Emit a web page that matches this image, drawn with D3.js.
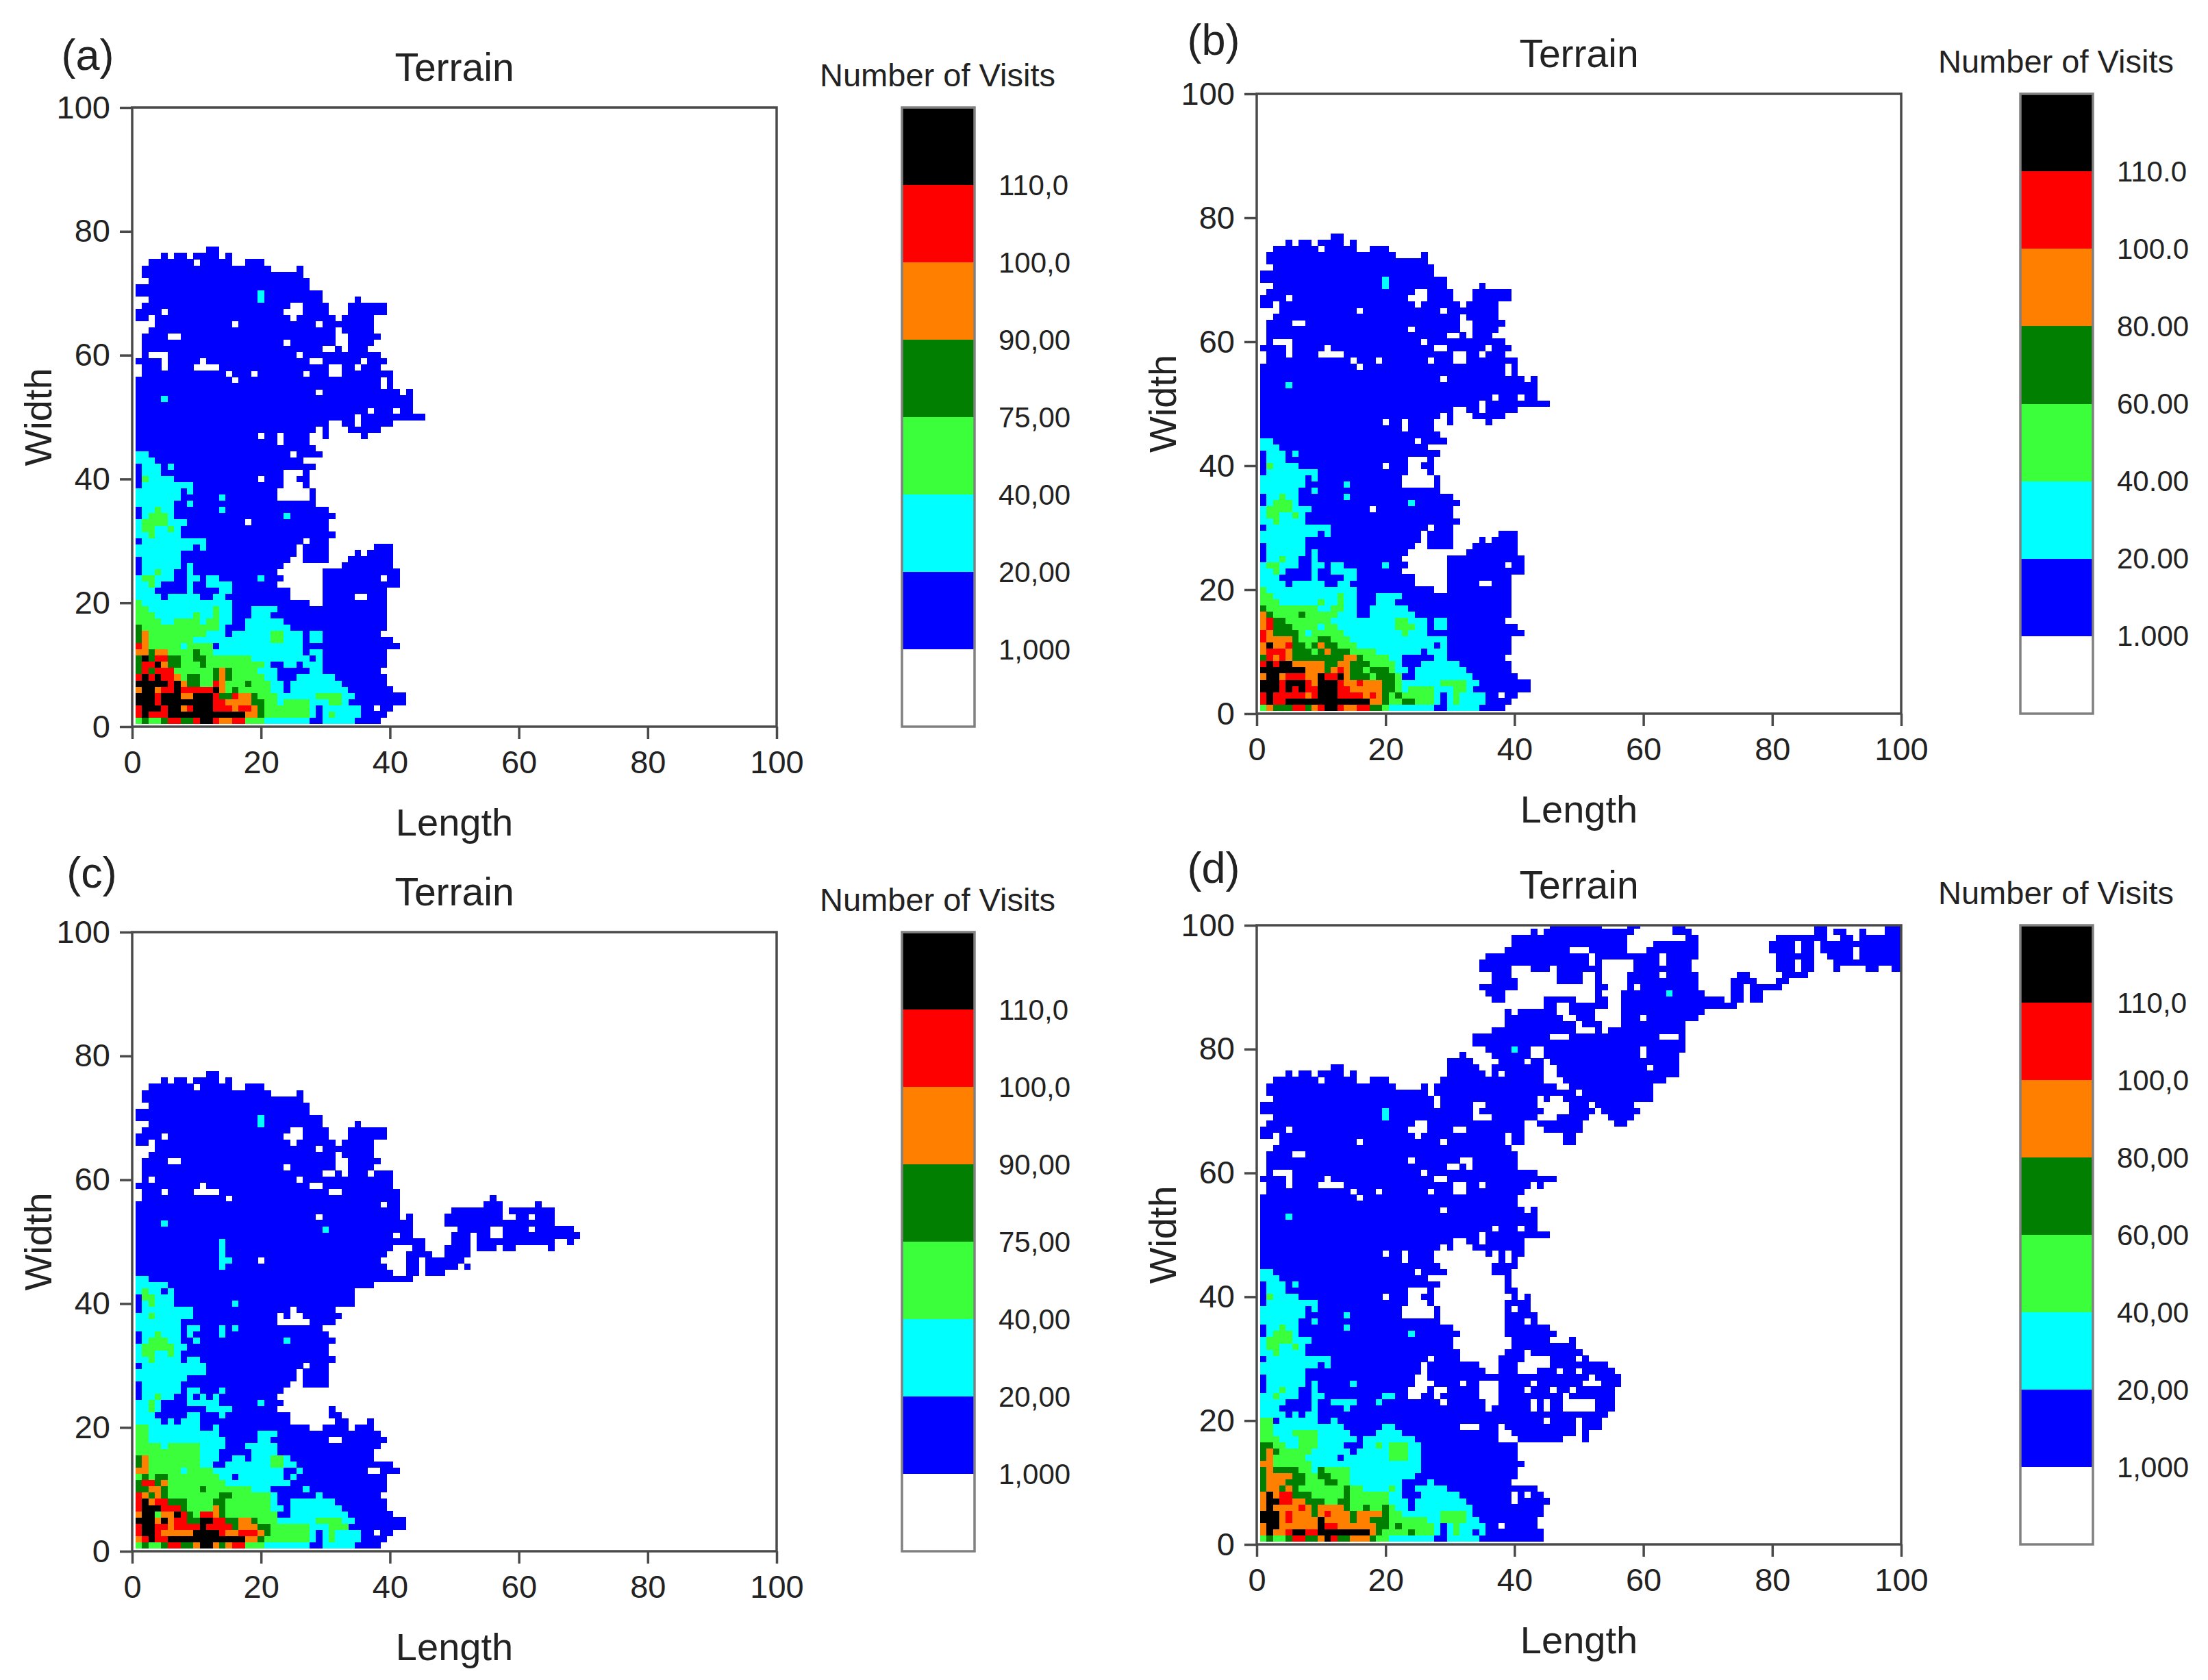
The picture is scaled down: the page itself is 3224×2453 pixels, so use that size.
<!DOCTYPE html>
<html>
<head>
<meta charset="utf-8">
<title>Terrain</title>
<script src="https://cdn.jsdelivr.net/npm/d3@7"></script>
<style>
  html, body { margin: 0; padding: 0; background: #fff; }
  text { font-family: "Liberation Sans", Arial, sans-serif; fill: #222; }
</style>
</head>
<body>
<svg id="chart"></svg>
<script>
// Grid rows, first entry is row 1 (bottom). Token = level letter + column or column range,
// later tokens overwrite earlier ones, "." clears a cell back to white.
const rowsA = [
  "b35-38 g1 d2 g3-4 d5 r6-7 d8-9 r10 k11-12 r13 o14-15 r16-17 g18-20 c21-27 b28-29 c30-34",
  "b36-39 r1 k2 r3-5 k6-17 o18-19 d20 g21-27 c28 b29 c30-35 g31",
  "b36-40 .38 r1 k2-4 r5 k6-7 o8 r9 k10-12 r13-15 o16 r17-18 o19 d20 g21-27 c28 b29 c30-35",
  "b34-42 k1-3 r4 k5-12 r13-14 o15-18 d19-20 g21-22 c23 g24-27 c28-30 g31-32 c33",
  "b35-42 k1-7 r4 o8-9 k10-12 r13 d14-15 r16 o17-18 d19 g20-22 c23-34 g29-32",
  "b1-40 o1 k2-3 o4 r5-6 k7 r8-12 k13 o14 g15 d16 g17-21 c22-23 b24 c25-33",
  "b1-39 k1-5 r6 k7 o8 d9-10 g11-12 r13 o14 g15-17 d18 g19-21 c22-23 b24 c25-32",
  "b1-39 r1 k2 r3 k4 r5-6 o7 g8 d9-10 g11-12 d13 o14 d15 g16-20 c21-22 b23-25 c26-31",
  "b1-38 d1 r2 d3 r4-6 g7-12 d13 o14 d15 g16-19 c20-22 b23-27 c28-29",
  "b1-39 d1 r2-3 k4 o5 d6-7 g8-10 d11 g12-20 c21 b22-23 c24-25 b26 c27-29",
  "b1-39 d1 k2 d3 r4-5 d6-7 g8-9 d10-11 g12-18 c19-27 b28 c29",
  "b1-39 o1-2 d3 o4-5 g6-9 d10 g11-12 c13-26 c28-29",
  "b1-41 r1 o2 g3-7 c8 g9-12 b13 c14-26",
  "b1-40 d1 o2 g3-9 c10-26 g22-23 c28-29",
  "b1-38 d1 o2 g3-11 c12-14 b15 c16-26 g22-23 c28-29",
  "b1-39 d1 g2-11 c12-14 g12-13 b15 c18-24",
  "b1-39 g1-4 c5-6 g7-10 c11-15 g12-13 c18-23",
  "b1-39 g1-3 c4-15 g10 g13 c19-21",
  "b1-39 g1-2 c3-15 g13 c19-22",
  "b1-27 b30-39 g1 c2-15",
  "b1-24 b30-39 c1-4 c6-10 c13-14 .35-36",
  "b1-24 b30-39 c1-3 c9 c14-15",
  "b1-22 b30-41 c1-4 g3 c9 c12-15",
  "b1-23 b30-41 c1-6 g2-3 c9-10 c12-13 c20 .39",
  "b1-22 b30-41 c2-6 g4 c9",
  "b1-23 b33-40 c2-7 c9",
  "b1-24 b27-30 b34-40 c2-7",
  "b1-25 b27-30 b35 b37-40 c1-7",
  "b1-25 b27-30 b38-40 c1-9 c11",
  "b1-30 c2-11 .27",
  "b1-31 c1-7 g3",
  "b1-30 c1-7 g2-3 g6",
  "b1-30 c1-8 g2-5 .18",
  "b1-31 c2-6 g3-5 c24",
  "b1-30 c2-6 g4 c14",
  "b1-28 c1-6 c9",
  "b1-22 b28 c1-7 c14",
  "b1-22 b28 c1-7 c9",
  "b1-23 b27 c2-9",
  "b1-23 b26-27 c2-6 g2 .20",
  "b1-23 b27 c2-4",
  "b1-28 c2-4 c6",
  "b1-26 c1-3",
  "b1-29 c1-2 .25",
  "b1-28",
  "b1-27 .23",
  "b1-27 .20 .23 b30 b36",
  "b1-28 b30 b34-38",
  "b1-30 b33-40 .35",
  "b1-45 .35",
  "b1-43 .37 .41",
  "b1-43",
  "b1-43 c5",
  "b1-41 b43 .29",
  "b1-40 .39",
  "b1-40 .16 .39",
  "b2-40 .15 .19 .27 .31-32",
  "b2-38 .5 .10-13 .31-32 .35",
  "b1-39 .5 .11 .28-29 .36",
  "b2-38 .3-5 .26",
  "b2-36 .30-31 .33",
  "b2-37 .24 .32-33",
  "b2-38 .6-7 .32-33",
  "b3-37 .32",
  "b4-37 .16 .29",
  "b1-31 .3 .25 b33-37",
  "b1-30 .5 .24-26 b34-39",
  "b2-30 .25-26 b34-39",
  "b3-29 c20 b35",
  "b1-29 c20",
  "b1-27",
  "b3-27",
  "b2-26",
  "b2-21 b26",
  "b3-15 .10 b18-20",
  "b5 b7-8 b10-13 b15",
  "b12-13"
];

// panel (b) only differs from (a) in rows 1-17
const lowB = [
  "b35-38 g1 o2 d3-5 r6-7 d8 o9 r10 k11-12 r13 o14-15 r16-17 d18-19 g20 c21-27 b28-29 c30-34",
  "b36-39 r1 k2 r3-4 k5-17 o18-19 d20 g21-22 d23-24 g25-27 c28 b29 c30-35 g31",
  "b36-40 .38 r1 k2 r3-7 o8 r9 k10-12 r13-16 o17 r18 o19 d20 g21 d22 g23-27 c28 b29 c30-35 g31",
  "b34-42 k1-3 r4 k5 r6 k7 r8-9 k10-12 r13-14 o15-19 d20-21 g22 c23 g24-27 c28-30 g31-32 c33",
  "b35-42 k1-3 r4 k5-7 r8 o9 k10-12 r13 o14-15 r16 o17-19 d20-21 g22 c23-34 g29-32",
  "b1-40 o1 k2-3 o4 r5-7 o8-9 k10 r11-12 k13 o14 d15-17 g18 d19-21 g22 b23-24 c25-33",
  "b1-39 k1-7 o8-10 d11 o12 r13 o14 d15-16 g17 d18-20 g21 c22-23 b24 c25-32",
  "b1-39 r1 k2 r3 k4-5 o6-10 d11-12 o13-14 d15-17 g18-21 c22 b23-25 c26-31",
  "b1-38 d1 r2 o3 r4 o5 d6-13 o14-15 d16 g17-20 c21-22 b23-27 c28-29",
  "b1-39 o1 r2-4 o5 d6-8 g9 d10 o11 d12-14 g15-18 c19-25 b26 c27-29",
  "b1-39 o1 k2 o3-4 r5 d6-7 g8 d9 o10 d11-12 g13-15 c16-27 b28 c29",
  "b1-39 r1 o2-5 d6 g7-9 d10-11 g12-14 c15-29",
  "b1-41 r1 o2 d3-6 g7 c8 g9-13 c14-26 g23",
  "b1-40 o1 r2 d3-5 g6-12 c10 c13-26 g22-24 c28-29",
  "b1-38 o1 r2 d3-4 g5-11 c12-26 g22-23 c28-29",
  "b1-39 o1 d2 g3-11 d7 g12 c13-15 c18-24",
  "b1-39 g1-9 d1 c10-15 g12-13 c18-23"
];

// panel (c) rows 1-65, the top of it is the same as (a)
const lowC = [
  "b35-38 g1 d2 g3-4 d5 r6-7 d8-9 o10 k11-12 o13 d14 o15 r16-17 g18-20 c21-27 b28-29 c30-34",
  "b36-39 o1 r2 k3 r4-5 k6-17 o18-19 d20 g21-27 c28 b29 c30-35 g31",
  "b36-40 .38 r1 k2-3 r4 o5-9 k10-13 r14 o15-16 r17-19 o20 d21 g22-27 c28 b29 c30-35 g31",
  "b34-42 r1 k2-3 r4-5 o6 r7-10 k11 r12-15 d16 o17-19 d20-21 g22-27 c28-30 g31-33",
  "b35-42 k1-3 o4 k5 o6 r7-8 d9-10 k11-12 r13-14 d15-16 o17-18 d19 g20-22 c23-34 g29-32",
  "b1-40 o1 k2-3 g4 o5-6 k7 r8 d9 g10 r11-12 o13 d14 g15-22 b23-24 c25-33",
  "b1-39 r1 k2-4 r5-7 d8 g9-12 o13 d14 g15-21 c22-23 b24 c25-32",
  "b1-39 r1 k2 o3 r4-5 d6-8 g9-12 d13-14 g15-21 c22 b23-24 c25-31",
  "b1-38 r1 o2 d3 o4 d5 g6-13 d14-15 g16-21 c22 c29",
  "b1-39 d1-2 o3-4 d5 g6-10 d11 g12-18 c19-21 c27",
  "b1-39 d1 r2-3 d4 o5 g6-14 c15-24",
  "b1-39 g1 d2 g3 d4-5 g6-13 c14-23 b16 c25",
  "b1-41 o1-2 g3-7 c8 g9-12 c13-23 c26 .37-38",
  "b1-40 d1 o2 g3-10 c11-12 b13-14 c15-25 g22-23",
  "b1-37 d1 o2 g3-10 c11-13 c16-17 c19-24 g22-23",
  "b1-37 g1-10 c11-13 c19-22",
  "b1-38 g1-4 c5 g6-10 c11-14 c18-22",
  "b1-39 g1-2 c3-14 c20-21 .31-32",
  "b1-38 g1-2 c3-13 c20-22",
  "b1-27 b30-33 b35-37 g1-2 c3-10 c13",
  "b1-24 b32-33 b37 c1-4 c6 c8-10",
  "b1-24 b31-32 c1-3 c9-10 c14",
  "b1-22 b31 c1-4 g3 c12-15",
  "b1-23 c1-4 g3 c9-13 c20",
  "b1-22 c2-6 g4 c9 c11 c13",
  "b1-23 c2-7 c9-10 c14",
  "b1-24 b27-30 c2-7",
  "b1-25 b27-30 c1-8",
  "b1-25 b27-30 c1-11",
  "b1-30 .27 c2-11",
  "b1-31 c1-7 c9-10 g3",
  "b1-30 c1-7 g2-3 g6",
  "b1-30 c1-8 g2-5 g6",
  "b1-31 c2-7 g3-5 c10 c24",
  "b1-30 c2-7 g4 c9 c14",
  "b1-29 c1-7 c9-10 c14 c16",
  "b1-22 b28-31 c1-7",
  "b1-32 c1-9 g3 .23 .25-26",
  "b1-31 .25 c2-9",
  "b1-34 c2-6 g3 c16",
  "b1-34 c2-6 g2-3",
  "b1-34 c1-6 g2 b5",
  "b1-37 c1-5",
  "b1-43 c1-2",
  "b1-40 b43-44 b46-48",
  "b1-39 b43-44 b46-50 b52 c14",
  "b1-38 b43-44 b46-51 c14-15 .20",
  "b1-39 b43-46 b49-52 c14",
  "b1-40 b44-45 b49-56 .53 b58-59 b65 c14",
  "b1-45 b50-65 .53 b68 c14",
  "b1-43 .41 b50-69 .53 .56-57",
  "b1-43 c30 b51-68 .56-57 .62",
  "b1-43 c5 b49-65",
  "b1-41 b43 .29 b49-57 b60-65 .62",
  "b1-41 b50-57 b59-65",
  "b1-41 .39 b55-57 b63",
  "b2-41 .15 b56",
  "b2-41 .5 .10-13 .31-32",
  "b1-40 .11 .28-29",
  "b2-40 .3 .26",
  "b2-40 .30-31 .33 .37",
  "b2-37 .24 .32-33",
  "b2-38 .6-7 .32-33",
  "b3-37 .32",
  "b4-37 .29"
];

const rowsD = [
  "b35-44 g1 d2 g3-4 d5 r6-7 d8-9 o10 k11 r12 d13-14 o15-17 d18 g19-20 c21-27 b28-29 c30-34",
  "b1-44 o1 k2 o3-4 r5 k6-7 r8-9 k10-17 o18 d19 g20-23 d24 g25-27 c28 b29 c30-33 g31 b34 c35",
  "b1-43 o1 k2-3 o4-9 k10 r11-12 o13-18 d19-20 g21 d22 g23-27 c28-35 b29 g31 .38",
  "b1-43 k1-3 o4 r5 o6-9 k10 o11-14 d15 o16-17 d18-20 g21-26 c27-34 g29-32",
  "b1-44 k1-3 o4 r5 o6-8 d9 o10 r11 o12-14 d15 o16-19 d20 g21-22 c23-33 g29-32",
  "b1-44 o1 k2 o3-6 r7 o8 d9 o10-13 d14 g15-16 d17 g18-19 d20 g21 c22-23 b24 c25-33",
  "b1-45 .40 o1 k2-3 r4-5 o6-7 d8-10 g11-12 d13-14 g15-20 c21-23 b24 c25-32",
  "b1-44 .40 .42 o1 k2 o3 r4-5 d6-8 g9-13 d14 g15-20 c21-22 b23-25 c26-31",
  "b1-43 d1 o2-3 d4 o5 d6 g7-13 d14 g15-16 c17-22 g21 b23-24 c25-29",
  "b1-39 d1 o2-4 d5-7 g8-10 d11-12 g13-14 c15-22 b23-24 c27",
  "b1-40 d1 o2-5 d6-7 g8-9 d10-11 g12-14 c15-24",
  "b1-40 d1 o2 d3-6 g7-8 c9 d10 g11-14 c15-25",
  "b1-41 o1-2 g3-8 c9-25",
  "b1-40 d1 o2 g3-7 c8-12 b13 c14-25 g21-23",
  "b1-40 d1 o2 d3 g4-8 c9-14 b15 c16-25 g21-23",
  "b1-40 d1-2 g3-4 c5-6 g7-9 c10-13 c17-25 g19 g21-23",
  "b1-51 g1-3 c4-6 g7-9 c10-15 c17-24 .38-40 .48-50",
  "b1-51 g1-2 c3-14 g6-9 c19-22 .38-39 .50",
  "b1-53 g1-2 c3-13 c20-21 .32-34 .38 .50",
  "b1-53 g1-2 b3 c4-9 c12 .45 .50",
  "b1-54 c1-4 c6 c8-9",
  "b1-55 c1-3 c9 c14 .36 .43 .45 .48-52",
  "b1-55 c1-4 c9 c12-15 c19 .29 .36-37 .43 .45 .48-52",
  "b1-23 b26-27 b29-34 b38-55 c1-6 g3 c9-10 c20-21 .48",
  "b1-23 b27 b30-34 b38-55 c2-6 g4 c9 .42 .46 .49",
  "b1-24 b28-34 .32 b38-56 c2-7 c9 c15 .43 .51-53",
  "b1-24 b27-56 c2-7 .52",
  "b1-25 b27-35 b38-40 b44-55 c1-7 .47 .50",
  "b1-25 b27-34 b38-40 b46-54 c1-9 c11",
  "b1-31 b38-41 b46-51 c2-11 .27 .50",
  "b1-31 b39-41 b43-50 c1-7 g3",
  "b1-30 b40-49 c1-7 g2-3 g6",
  "b1-30 b40-45 b49 c1-8 g2-5",
  "b1-31 b39-46 c2-6 g3-5 c24",
  "b1-30 b39-45 c2-6 g4 c14",
  "b1-28 b39-43 c1-6 c9 .42",
  "b1-22 b28 b39-43 c1-7 c14",
  "b1-22 b28 b39-42 c1-7 c9 .40",
  "b1-23 b27 b39-42 c2-9",
  "b1-23 b26-27 b40 b42 c2-6 g2 .20",
  "b1-23 b27 b39-40 c2-4",
  "b1-28 b39 c2-4 c6",
  "b1-26 b39 c1-3",
  "b1-29 b37-39 c1-2 .25",
  "b1-28 b37-40",
  "b1-27 .23 b38 b40",
  "b1-27 .20 .23 b36 b38 b40-41",
  "b1-28 b30 b34-41",
  "b1-30 b33-41 .35",
  "b1-45 .35",
  "b1-43 .37 .41",
  "b1-43",
  "b1-43 c5",
  "b1-41 b43 .29",
  "b1-40",
  "b1-40 .16",
  "b2-41 .15 .19 .27 .31-32",
  "b2-42 b44 .5 .10-13 .31-32 .35",
  "b1-46 .5 .11 .28-29",
  "b2-43 .3-5 .26",
  "b2-40 .30-31 .33",
  "b2-40 .24 .32-33",
  "b2-40 .6-7",
  "b3-39",
  "b4-38 .16 .29 b40-41 b48-49",
  "b1-38 .3 .25 b40-41 b48-49",
  "b1-41 .5 .24-26 .31-32 b45-50",
  "b2-41 .25-26 b44-50 b56-57",
  "b3-33 c20 b37-43 b47-51 b55-58",
  "b1-33 c20 b35-44 b49-52 b54-59",
  "b1-27 b29-33 b36-43 b49-51 b53-58",
  "b3-27 b29-43 b45 b48-61",
  "b2-26 b28-61 .50",
  "b2-21 b26 b28-46 b49-61",
  "b3-15 .10 b18-20 b29-44 b48-63",
  "b5 b7-8 b10-13 b15 b30-35 b37 b39-44 b47-65",
  "b12-13 b30-34 b37-44 b47-65 .61",
  "b30-33 b38-41 b43-44 b46-65",
  "b32 b37-42 b45-65 .60",
  "b36-66 .43-44 .60 c40",
  "b34-66",
  "b34-66 .46-48 .63-65",
  "b37-49 b53 b55-66",
  "b39-49 b51-53 b57-66",
  "b39-47 b50-52 b57-68 .60",
  "b39 b41-46 b49-52 b57-69",
  "b45-46 b49-54 b57-74",
  "b37-38 b45-49 b53-54 b57-72 b74-75 b77-78",
  "b36-38 b53 b57-69 c64 b74-75 b77-78",
  "b35-40 b53-54 b58-68 .59 b74-75 b77-81",
  "b37-40 b47-50 b53 b58-68 b74-77 b81-82",
  "b37-39 b47-50 b53 b58-68 .63 b75-76 b82-85",
  "b35-39 b43-45 b47-53 b59-67 b81-83 b85-86 b90 b95-96 b99-100",
  "b35-53 .52 b59-67 .63 b81-83 b85-86 b90-100",
  "b36-68 .52 .63 b81-86 b89-100 .93",
  "b39-57 .49-51 b61-68 b80-83 b85-86 b88-100 .93",
  "b40-57 b62-68 b80-83 b85-86 b88-100",
  "b40-57 b67-68 b81-88 b91-92 b94-100",
  "b43 b45-58 b65-67 b87-88 b90-91 b94 b98-100",
  "b46-53 b58-59 b65-66 b87-88 b98-100"
];

const rowsB = lowB.concat(rowsA.slice(17));
const rowsC = lowC.concat(rowsA.slice(65));

const levelCodes = [".", "b", "c", "g", "d", "o", "r", "k"];
const levelColors = ["#ffffff", "#0000ff", "#00ffff", "#3cff3c", "#007f00", "#ff8000", "#ff0000", "#000000"];

const axisTicks = [0, 20, 40, 60, 80, 100];
const labelsComma = ["1,000", "20,00", "40,00", "75,00", "90,00", "100,0", "110,0"];
const labelsDot = ["1.000", "20.00", "40.00", "60.00", "80.00", "100.0", "110.0"];
const labelsCommaD = ["1,000", "20,00", "40,00", "60,00", "80,00", "100,0", "110,0"];

const panels = [
  { tag: "(a)", rows: rowsA, legend: labelsComma, x0: 193, y0: 1061, y1: 157, legendX: 1317, tagX: 128, tagY: 80 },
  { tag: "(b)", rows: rowsB, legend: labelsDot, x0: 1835, y0: 1042, y1: 137, legendX: 2950, tagX: 1772, tagY: 58 },
  { tag: "(c)", rows: rowsC, legend: labelsComma, x0: 193, y0: 2265, y1: 1361, legendX: 1317, tagX: 134, tagY: 1274 },
  { tag: "(d)", rows: rowsD, legend: labelsCommaD, x0: 1835, y0: 2255, y1: 1351, legendX: 2950, tagX: 1772, tagY: 1267 }
];

function parseRow(text, row) {
  const cells = new Map();
  text.split(" ").forEach(token => {
    const code = token[0];
    const range = token.slice(1).split("-").map(Number);
    const end = range.length > 1 ? range[1] : range[0];
    for (let col = range[0]; col <= end; col++) {
      if (code === ".") cells.delete(col);
      else cells.set(col, code);
    }
  });
  return Array.from(cells, ([col, code]) => ({ col, row, level: levelCodes.indexOf(code) }));
}

const svg = d3.select("#chart").attr("width", 3224).attr("height", 2453);

const legendWidth = 106;
const frameColor = "#4a4a4a";

panels.forEach((p, idx) => {
  const plotWidth = 941;
  const x = d3.scaleLinear().domain([0, 100]).range([p.x0, p.x0 + plotWidth]);
  const y = d3.scaleLinear().domain([0, 100]).range([p.y0, p.y1]);
  const g = svg.append("g");

  g.append("clipPath").attr("id", "clip" + idx)
    .append("rect")
    .attr("x", x(0)).attr("y", y(100))
    .attr("width", x(100) - x(0)).attr("height", y(0) - y(100));

  const cells = p.rows.flatMap((text, i) => parseRow(text, i + 1));

  g.append("g").attr("clip-path", `url(#clip${idx})`)
    .attr("shape-rendering", "crispEdges")
    .selectAll("rect").data(cells).join("rect")
    .attr("x", d => x(d.col - 0.5))
    .attr("y", d => y(d.row + 0.5))
    .attr("width", d => x(d.col + 0.5) - x(d.col - 0.5) + 0.3)
    .attr("height", d => y(d.row - 0.5) - y(d.row + 0.5) + 0.3)
    .attr("fill", d => levelColors[d.level]);

  // frame
  g.append("rect")
    .attr("x", x(0)).attr("y", y(100))
    .attr("width", x(100) - x(0)).attr("height", y(0) - y(100))
    .attr("fill", "none")
    .attr("stroke", frameColor)
    .attr("stroke-width", 3.5);

  const xAxis = g.append("g")
    .attr("transform", `translate(0,${y(0)})`)
    .call(d3.axisBottom(x).tickValues(axisTicks).tickFormat(d3.format("d")).tickSize(18).tickPadding(17));
  const yAxis = g.append("g")
    .attr("transform", `translate(${x(0)},0)`)
    .call(d3.axisLeft(y).tickValues(axisTicks).tickFormat(d3.format("d")).tickSize(18).tickPadding(14));

  [xAxis, yAxis].forEach(a => {
    a.select(".domain").remove();
    a.selectAll("line").attr("stroke", frameColor).attr("stroke-width", 3.5);
    a.selectAll("text").attr("font-size", 47).attr("font-family", null);
  });

  g.append("text")
    .attr("x", (x(0) + x(100)) / 2).attr("y", y(100) - 59)
    .attr("text-anchor", "middle").attr("dominant-baseline", "central")
    .attr("font-size", 57)
    .text("Terrain");

  g.append("text")
    .attr("x", (x(0) + x(100)) / 2).attr("y", y(0) + 139)
    .attr("text-anchor", "middle").attr("dominant-baseline", "central")
    .attr("font-size", 56)
    .text("Length");

  g.append("text")
    .attr("transform", `translate(${x(0) - 138},${(y(0) + y(100)) / 2}) rotate(-90)`)
    .attr("text-anchor", "middle").attr("dominant-baseline", "central")
    .attr("font-size", 56)
    .text("Width");

  g.append("text")
    .attr("x", p.tagX).attr("y", p.tagY)
    .attr("text-anchor", "middle").attr("dominant-baseline", "central")
    .attr("font-size", 63)
    .text(p.tag);

  // colour legend, 8 equal steps over the plot height
  const legendY = d3.scaleLinear().domain([0, levelColors.length]).range([p.y0, p.y1]);

  g.append("text")
    .attr("x", p.legendX + legendWidth / 2 - 1).attr("y", p.y1 - 48)
    .attr("text-anchor", "middle").attr("dominant-baseline", "central")
    .attr("font-size", 47)
    .text("Number of Visits");

  g.append("g").attr("shape-rendering", "crispEdges")
    .selectAll("rect").data(levelColors).join("rect")
    .attr("x", p.legendX)
    .attr("y", (d, i) => legendY(i + 1))
    .attr("width", legendWidth)
    .attr("height", (d, i) => legendY(i) - legendY(i + 1))
    .attr("fill", d => d);

  g.append("rect")
    .attr("x", p.legendX).attr("y", p.y1)
    .attr("width", legendWidth).attr("height", p.y0 - p.y1)
    .attr("fill", "none")
    .attr("stroke", "#808080")
    .attr("stroke-width", 3.5);

  g.append("g").selectAll("text").data(p.legend).join("text")
    .attr("x", p.legendX + 141)
    .attr("y", (d, i) => legendY(i + 1))
    .attr("dominant-baseline", "central")
    .attr("font-size", 42)
    .text(d => d);
});
</script>
</body>
</html>
